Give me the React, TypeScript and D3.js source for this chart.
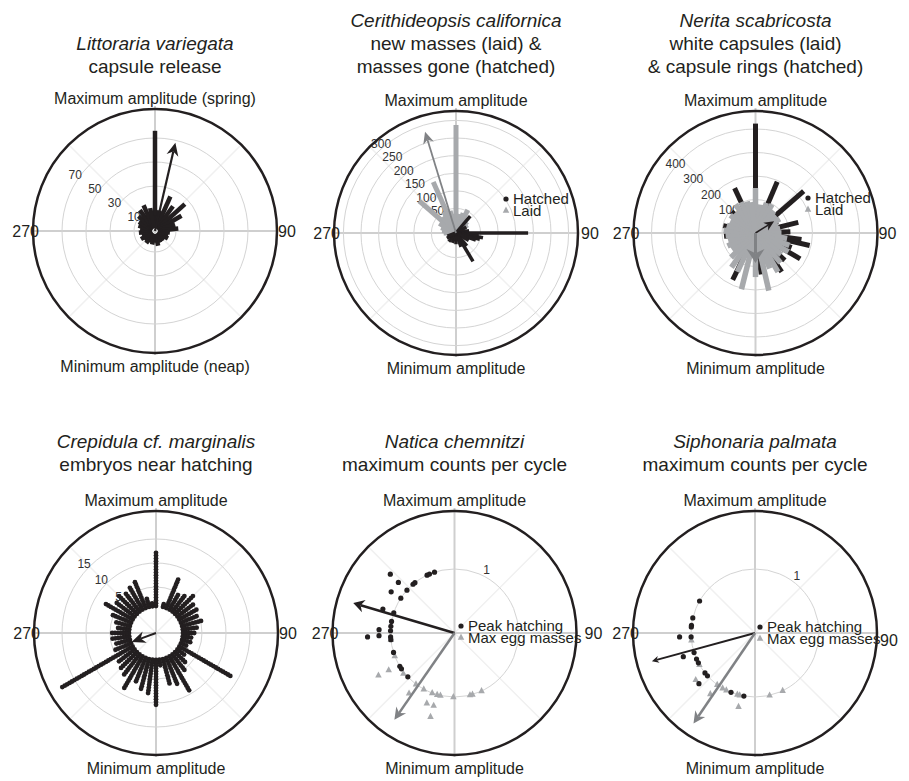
import React from 'react'
import * as d3 from 'd3'

const INK = '#231f20'
const LAID = '#a7a9ac'
const ARROW_GREY = '#808285'
const AXIS = '#cfcfcf'
const RING = '#d4d4d4'
const FONT = '"Liberation Sans", Arial, Helvetica, sans-serif'
const R = 122

// Littoraria variegata, capsule release (12 deg bins, from 0)
const littBin = 12
const littCounts = [76, 10, 24, 18, 26, 18, 10, 12, 5, 4, 5, 3, 3, 3, 5, 2, 4, 3, 5, 4, 6, 4, 6, 5, 7, 8, 11, 14, 16, 12]
const littTicks = [10, 30, 50, 70]
const littArrow = { angle: 13, value: 68 }

// Cerithideopsis californica
const ceriLaidAngles = [0, 10, 20, 27, 35, 45, 55, 65, 80, 270, 280, 290, 300, 311, 320, 330, 336, 345, 352]
const ceriLaidCounts = [287, 35, 40, 54, 30, 25, 20, 12, 5, 15, 20, 25, 35, 119, 40, 50, 139, 45, 35]
const ceriHatchAngles = [40, 60, 80, 90, 95, 100, 105, 110, 120, 140, 149, 160, 180, 200, 220, 240, 250]
const ceriHatchCounts = [43, 14, 18, 185, 45, 58, 50, 40, 22, 28, 74, 22, 12, 10, 12, 10, 6]
const ceriTicks = [50, 100, 150, 200, 250, 300]
const ceriArrow = { angle: 343, value: 281 }

// Nerita scabricosta
const neriLaidAngles = [0, 10, 20, 30, 40, 50, 60, 70, 80, 90, 100, 110, 120, 130, 140, 150, 158, 167, 180, 194, 205, 215, 225, 235, 245, 255, 265, 275, 285, 295, 305, 315, 325, 335, 345, 352]
const neriLaidCounts = [149, 80, 94, 98, 80, 72, 77, 60, 64, 68, 94, 111, 119, 100, 123, 149, 120, 209, 145, 204, 140, 136, 105, 80, 89, 78, 85, 94, 84, 76, 89, 80, 106, 102, 96, 90]
const neriHatchAngles = [0, 23, 49, 62, 76, 88, 98, 103, 112, 120, 133, 146, 172, 206, 264, 283, 312, 335]
const neriHatchCounts = [423, 194, 229, 64, 145, 106, 155, 194, 123, 177, 128, 157, 135, 179, 92, 98, 94, 168]
const neriTicks = [100, 200, 300, 400]
const neriLaidArrow = { angle: 180, value: 85 }
const neriHatchArrow = { angle: 58, value: 51 }

// Crepidula cf. marginalis, embryos near hatching (dots per 7.5 deg bin)
const crepBin = 7.5
const crepDots = [20, 0, 2, 12, 7, 8, 10, 8, 8, 7, 8, 6, 5, 4, 4, 3, 22, 4, 6, 8, 15, 11, 10, 3, 17, 13, 12, 10, 14, 10, 9, 8, 30, 7, 6, 7, 7, 5, 6, 8, 12, 9, 10, 9, 10, 11, 4, 2]
const crepTicks = [5, 10, 15]
const crepArrow = { angle: 250, value: 0.85 }

// Natica chemnitzi, maximum counts per cycle
const natHatchAngles = [312.5, 312, 312, 303, 303, 319.6, 321.8, 334.6, 337, 341.8, 288.5, 288.4, 280.4, 276, 267.4, 272.5, 268, 272, 266.5, 264, 252.3, 238.7, 236, 226.8]
const natHatchValues = [1.36, 1.18, 1, 1.18, 1, 1, 1, 1, 1, 1, 1.18, 1, 1, 1, 1.36, 1.18, 1.18, 1, 1, 1, 1, 1, 1, 1]
const natEggAngles = [264, 249, 240.9, 240.6, 231.6, 217, 217, 208.7, 200.4, 195.7, 192.7, 181, 166, 163.7, 155, 201.5, 196, 196]
const natEggValues = [1, 1, 1.36, 1.18, 1.02, 1, 1.18, 1, 1, 1, 1, 1, 1, 1, 1, 1.18, 1.18, 1.36]
const natArrows = { hatch: { angle: 286.5, value: 1.65 }, egg: { angle: 214.7, value: 1.65 } }

// Siphonaria palmata, maximum counts per cycle
const sipHatchAngles = [300, 283.6, 276.8, 275.4, 267, 266.5, 251.7, 252.2, 246, 242.2, 231.4, 228, 227.9, 202, 190]
const sipHatchValues = [1, 1, 1, 1, 1.18, 1, 1.18, 1, 1, 1, 1, 1, 1.18, 1, 1]
const sipEggAngles = [263.6, 240.3, 231.7, 216.3, 216.2, 210.4, 206.6, 196, 193.8, 192.6, 166.8, 154.4]
const sipEggValues = [1, 1, 1.18, 1.18, 1, 1, 1, 1, 1, 1.18, 1, 1]
const sipArrows = { hatch: { angle: 254.7, value: 1.67 }, egg: { angle: 214.2, value: 1.71 } }

const polar = (deg: number, r: number): [number, number] => {
  const a = (deg * Math.PI) / 180
  return [r * Math.sin(a), -r * Math.cos(a)]
}

function Spoke({ angle, r0, r1, color, width }) {
  const [x0, y0] = polar(angle, r0)
  const [x1, y1] = polar(angle, r1)
  return <line x1={x0} y1={y0} x2={x1} y2={y1} stroke={color} strokeWidth={width} />
}

function Arrow({ angle, length, color, width, head, headW }) {
  const base = length - head
  const notch = length - head * 0.7
  return (
    <g transform={`rotate(${angle})`}>
      <line x1={0} y1={0} x2={0} y2={-notch} stroke={color} strokeWidth={width} />
      <path d={`M0,${-length}L${headW / 2},${-base}L0,${-notch}L${-headW / 2},${-base}Z`} fill={color} />
    </g>
  )
}

const triPath = (x: number, y: number, s: number) =>
  `M${x},${y - s * 0.6}L${x + s / 2},${y + s * 0.35}L${x - s / 2},${y + s * 0.35}Z`

function Frame({ cx, cy, title, titleY, topLabel, bottomLabel, rScale, ticks, tickAngle, tickOffset, nineDx = 1, nineDy = 0, children }) {
  return (
    <g>
      {title.map((t, i) => (
        <text key={i} x={cx} y={titleY[i]} textAnchor="middle" fontSize={19} fontStyle={t.italic ? 'italic' : 'normal'} fill={INK}>
          {t.text}
        </text>
      ))}
      <g transform={`translate(${cx},${cy})`}>
        {[45, 135, 225, 315].map((a) => {
          const [x, y] = polar(a, R)
          return <line key={a} x1={0} y1={0} x2={x} y2={y} stroke="#f0f0f0" strokeWidth={1.5} />
        })}
        <line x1={-R} x2={R} y1={0} y2={0} stroke={AXIS} strokeWidth={2} />
        <line x1={0} x2={0} y1={-R - 3} y2={R + 2} stroke={AXIS} strokeWidth={2} />
        {ticks.map((t) => (
          <circle key={t} r={rScale(t)} fill="none" stroke={RING} strokeWidth={1} />
        ))}
        {ticks.map((t) => {
          const [x, y] = polar(tickAngle, rScale(t) + tickOffset)
          return (
            <text key={t} x={x} y={y} dy="0.35em" textAnchor="middle" fontSize={12} fill="#333">
              {t}
            </text>
          )
        })}
        {children}
        <circle r={R} fill="none" stroke={INK} strokeWidth={2.5} />
        <text x={0} y={-R - 5} textAnchor="middle" fontSize={16} fill={INK}>{topLabel}</text>
        <text x={0} y={R + 19} textAnchor="middle" fontSize={16} fill={INK}>{bottomLabel}</text>
        <text x={-R + 6} y={6} textAnchor="end" fontSize={16} fill={INK}>270</text>
        <text x={R + nineDx} y={6 + nineDy} fontSize={16} fill={INK}>90</text>
      </g>
    </g>
  )
}

function Legend({ x, y, labels }) {
  return (
    <g>
      <circle cx={x} cy={y} r={2.6} fill={INK} />
      <path d={triPath(x, y + 11.5, 6.5)} fill={LAID} />
      <text x={x + 7} y={y + 5} fontSize={15} fill={INK}>{labels[0]}</text>
      <text x={x + 7} y={y + 16.5} fontSize={15} fill={INK}>{labels[1]}</text>
    </g>
  )
}

export default function App() {
  const littR = d3.scaleLinear().domain([0, 100]).range([9, 129])
  const ceriR = d3.scaleLinear().domain([0, 300]).range([7, 112.6])
  const neriR = d3.scaleLinear().domain([0, 400]).range([10, 104])
  const crepR = d3.scaleLinear().domain([0, 15]).range([22, 94])
  const stackR = d3.scaleLinear().domain([0, 10]).range([27, 55])
  const cycleR = d3.scaleLinear().domain([0, 1]).range([0, 64])

  const top3 = [27, 50, 73]
  const bottom2 = [448, 471]

  return (
    <div style={{ position: 'absolute', left: 0, top: 0 }}>
      <svg width={909} height={781} style={{ display: 'block', background: '#fff', fontFamily: FONT }}>
        <Frame
          cx={155} cy={231}
          title={[{ text: 'Littoraria variegata', italic: true }, { text: 'capsule release' }]}
          titleY={[50, 73]}
          topLabel="Maximum amplitude (spring)" bottomLabel="Minimum amplitude (neap)"
          rScale={littR} ticks={littTicks} tickAngle={305} tickOffset={4.5}
        >
          {littCounts.map((v, i) => (
            <Spoke key={i} angle={i * littBin} r0={3} r1={littR(v)} color={INK} width={4.5} />
          ))}
          <Arrow angle={littArrow.angle} length={littR(littArrow.value)} color={INK} width={2.2} head={13} headW={12} />
        </Frame>

        <Frame
          cx={456} cy={233}
          title={[{ text: 'Cerithideopsis californica', italic: true }, { text: 'new masses (laid) &' }, { text: 'masses gone (hatched)' }]}
          titleY={top3}
          topLabel="Maximum amplitude" bottomLabel="Minimum amplitude"
          rScale={ceriR} ticks={ceriTicks} tickAngle={320} tickOffset={4}
          nineDx={3}
        >
          {ceriLaidCounts.map((v, i) => (
            <Spoke key={'l' + i} angle={ceriLaidAngles[i]} r0={0} r1={ceriR(v)} color={LAID} width={5} />
          ))}
          {ceriHatchCounts.map((v, i) => (
            <Spoke key={'h' + i} angle={ceriHatchAngles[i]} r0={0} r1={ceriR(v)} color={INK} width={3.5} />
          ))}
          <Arrow angle={ceriArrow.angle} length={ceriR(ceriArrow.value)} color={ARROW_GREY} width={1.8} head={12} headW={11} />
          <Legend x={50} y={-34} labels={['Hatched', 'Laid']} />
        </Frame>

        <Frame
          cx={755.5} cy={233}
          title={[{ text: 'Nerita scabricosta', italic: true }, { text: 'white capsules (laid)' }, { text: '& capsule rings (hatched)' }]}
          titleY={top3}
          topLabel="Maximum amplitude" bottomLabel="Minimum amplitude"
          rScale={neriR} ticks={neriTicks} tickAngle={311} tickOffset={2}
        >
          {neriHatchCounts.map((v, i) => (
            <Spoke key={'h' + i} angle={neriHatchAngles[i]} r0={0} r1={neriR(v)} color={INK} width={5} />
          ))}
          {neriLaidCounts.map((v, i) => (
            <Spoke key={'l' + i} angle={neriLaidAngles[i]} r0={0} r1={neriR(v)} color={LAID} width={5.5} />
          ))}
          <Arrow angle={neriHatchArrow.angle} length={neriR(neriHatchArrow.value)} color={INK} width={1.5} head={10} headW={9} />
          <Arrow angle={neriLaidArrow.angle} length={neriR(neriLaidArrow.value)} color={ARROW_GREY} width={3} head={14} headW={18} />
          <Legend x={52.5} y={-35} labels={['Hatched', 'Laid']} />
        </Frame>

        <Frame
          cx={156} cy={633}
          title={[{ text: 'Crepidula cf. marginalis', italic: true }, { text: 'embryos near hatching' }]}
          titleY={bottom2}
          topLabel="Maximum amplitude" bottomLabel="Minimum amplitude"
          rScale={crepR} ticks={crepTicks} tickAngle={314} tickOffset={6}
        >
          {crepDots.map((n, i) =>
            d3.range(n).map((k) => {
              const [x, y] = polar(i * crepBin, stackR(k))
              return <circle key={i + '-' + k} cx={x} cy={y} r={2.4} fill={INK} />
            })
          )}
          <Arrow angle={crepArrow.angle} length={crepR(crepArrow.value)} color={INK} width={2} head={14} headW={12} />
        </Frame>

        <Frame
          cx={454.5} cy={633}
          title={[{ text: 'Natica chemnitzi', italic: true }, { text: 'maximum counts per cycle' }]}
          titleY={bottom2}
          topLabel="Maximum amplitude" bottomLabel="Minimum amplitude"
          rScale={cycleR} ticks={[1]} tickAngle={27} tickOffset={6.5}
          nineDx={8}
        >
          {natEggValues.map((v, i) => {
            const [x, y] = polar(natEggAngles[i], cycleR(v))
            return <path key={'e' + i} d={triPath(x, y, 6.5)} fill={LAID} />
          })}
          {natHatchValues.map((v, i) => {
            const [x, y] = polar(natHatchAngles[i], cycleR(v))
            return <circle key={'h' + i} cx={x} cy={y} r={2.6} fill={INK} />
          })}
          <Arrow angle={natArrows.hatch.angle} length={cycleR(natArrows.hatch.value)} color={INK} width={2.5} head={11} headW={13} />
          <Arrow angle={natArrows.egg.angle} length={cycleR(natArrows.egg.value)} color={ARROW_GREY} width={2.5} head={12} headW={12} />
          <Legend x={6.5} y={-7} labels={['Peak hatching', 'Max egg masses']} />
        </Frame>

        <Frame
          cx={755} cy={633}
          title={[{ text: 'Siphonaria palmata', italic: true }, { text: 'maximum counts per cycle' }]}
          titleY={bottom2}
          topLabel="Maximum amplitude" bottomLabel="Minimum amplitude"
          rScale={cycleR} ticks={[1]} tickAngle={36} tickOffset={7}
          nineDx={3} nineDy={7}
        >
          {sipEggValues.map((v, i) => {
            const [x, y] = polar(sipEggAngles[i], cycleR(v))
            return <path key={'e' + i} d={triPath(x, y, 6.5)} fill={LAID} />
          })}
          {sipHatchValues.map((v, i) => {
            const [x, y] = polar(sipHatchAngles[i], cycleR(v))
            return <circle key={'h' + i} cx={x} cy={y} r={2.6} fill={INK} />
          })}
          <Arrow angle={sipArrows.hatch.angle} length={cycleR(sipArrows.hatch.value)} color={INK} width={2} head={7} headW={7} />
          <Arrow angle={sipArrows.egg.angle} length={cycleR(sipArrows.egg.value)} color={ARROW_GREY} width={2.5} head={12} headW={12} />
          <Legend x={5} y={-6} labels={['Peak hatching', 'Max egg masses']} />
        </Frame>
      </svg>
    </div>
  )
}
